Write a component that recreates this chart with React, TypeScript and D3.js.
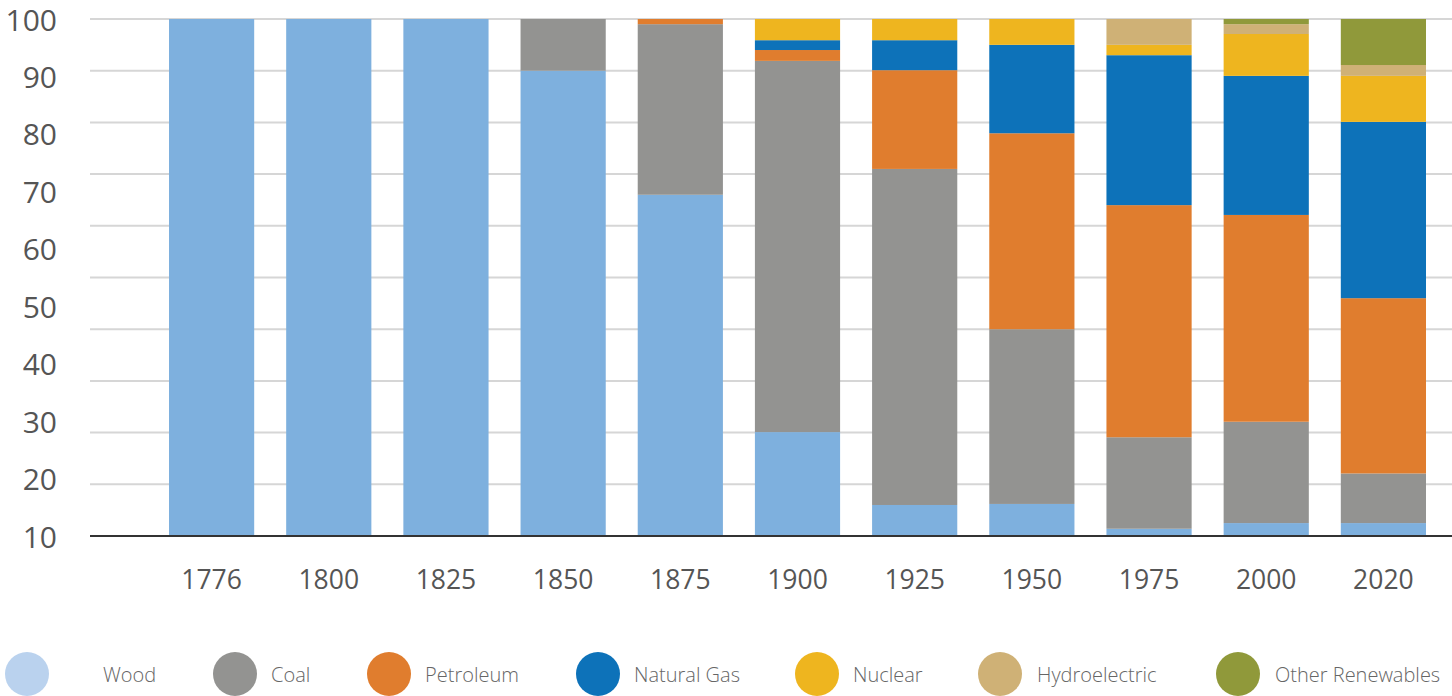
import React from "react";
import * as d3 from "d3";

const years = ["1776", "1800", "1825", "1850", "1875", "1900", "1925", "1950", "1975", "2000", "2020"];
const sources = ["Wood", "Coal", "Petroleum", "Natural Gas", "Nuclear", "Hydroelectric", "Other Renewables"];
const wood = [100, 100, 100, 90, 66, 20.1, 6, 6.2, 1.4, 2.5, 2.5];
const coal = [0, 0, 0, 10, 33, 71.8, 65, 33.8, 17.7, 19.6, 9.6];
const petroleum = [0, 0, 0, 0, 1, 2.1, 19.1, 37.9, 44.9, 40, 33.9];
const naturalGas = [0, 0, 0, 0, 0, 1.9, 5.8, 17.1, 29, 26.9, 34.1];
const nuclear = [0, 0, 0, 0, 0, 4.1, 4.1, 5, 2, 8.1, 8.9];
const hydro = [0, 0, 0, 0, 0, 0, 0, 0, 5, 1.9, 2.1];
const otherRenewables = [0, 0, 0, 0, 0, 0, 0, 0, 0, 1, 8.9];
const yTickLabels = ["10", "20", "30", "40", "50", "60", "70", "80", "90", "100"];
const gridValues = [0, 10, 20, 30, 40, 50, 60, 70, 80, 90, 100];

const barColors = ["#7eb0de", "#939391", "#e07d2e", "#0d72b9", "#eeb51f", "#cfb176", "#90993a"];
const legendColors = ["#bad2ee", "#939391", "#e07d2e", "#0d72b9", "#eeb51f", "#cfb176", "#90993a"];

const W = 1452;
const H = 696;
const FONT = "'Open Sans', 'DejaVu Sans', sans-serif";

export default function App() {
  const seriesValues = [wood, coal, petroleum, naturalGas, nuclear, hydro, otherRenewables];
  const rows = years.map((yr, i) => {
    const r: any = { year: yr };
    sources.forEach((s, k) => (r[s] = seriesValues[k][i]));
    return r;
  });
  const stacked = d3.stack().keys(sources)(rows);

  const x = d3.scaleBand().domain(years).range([169, 1426]).paddingInner(0.273).paddingOuter(0);
  const y = d3.scaleLinear().domain([0, 100]).range([536, 19]);
  const yLabel = d3.scalePoint().domain(yTickLabels).range([536, 19]);

  const legendX = [27, 235, 389, 598, 817, 1000, 1238];
  const legendTextX = [103, 271, 425, 634, 853, 1037, 1275];

  return (
    <svg width={W} height={H} style={{ position: "absolute", left: 0, top: 0, display: "block" }}>
      <rect width={W} height={H} fill="#ffffff" />
      {gridValues.slice(1).map((v) => (
        <line key={v} x1={90} x2={W} y1={y(v)} y2={y(v)} stroke="#d6d6d6" strokeWidth={2} />
      ))}
      {stacked.map((layer, k) => (
        <g key={layer.key} fill={barColors[k]}>
          {layer.map((d: any, i: number) =>
            d[1] - d[0] > 0 ? (
              <rect
                key={i}
                x={x(d.data.year)}
                width={x.bandwidth()}
                y={y(d[1])}
                height={y(d[0]) - y(d[1])}
              />
            ) : null
          )}
        </g>
      ))}
      <line x1={90} x2={W} y1={y(0)} y2={y(0)} stroke="#333333" strokeWidth={2} />
      {yTickLabels.map((t) => (
        <text
          key={t}
          x={57}
          y={yLabel(t)}
          textAnchor="end"
          dominantBaseline="central"
          fontFamily={FONT}
          fontSize={30}
          fill="#555555"
        >
          {t}
        </text>
      ))}
      {years.map((yr) => (
        <text
          key={yr}
          x={(x(yr) as number) + x.bandwidth() / 2}
          y={589}
          textAnchor="middle"
          fontFamily={FONT}
          fontSize={26.5}
          fill="#555555"
        >
          {yr}
        </text>
      ))}
      {sources.map((s, k) => (
        <g key={s}>
          <circle cx={legendX[k]} cy={674} r={22} fill={legendColors[k]} />
          <text
            x={legendTextX[k]}
            y={674}
            dominantBaseline="central"
            fontFamily={FONT}
            fontSize={20}
            fontWeight={300}
            fill="#666666"
          >
            {s}
          </text>
        </g>
      ))}
    </svg>
  );
}
